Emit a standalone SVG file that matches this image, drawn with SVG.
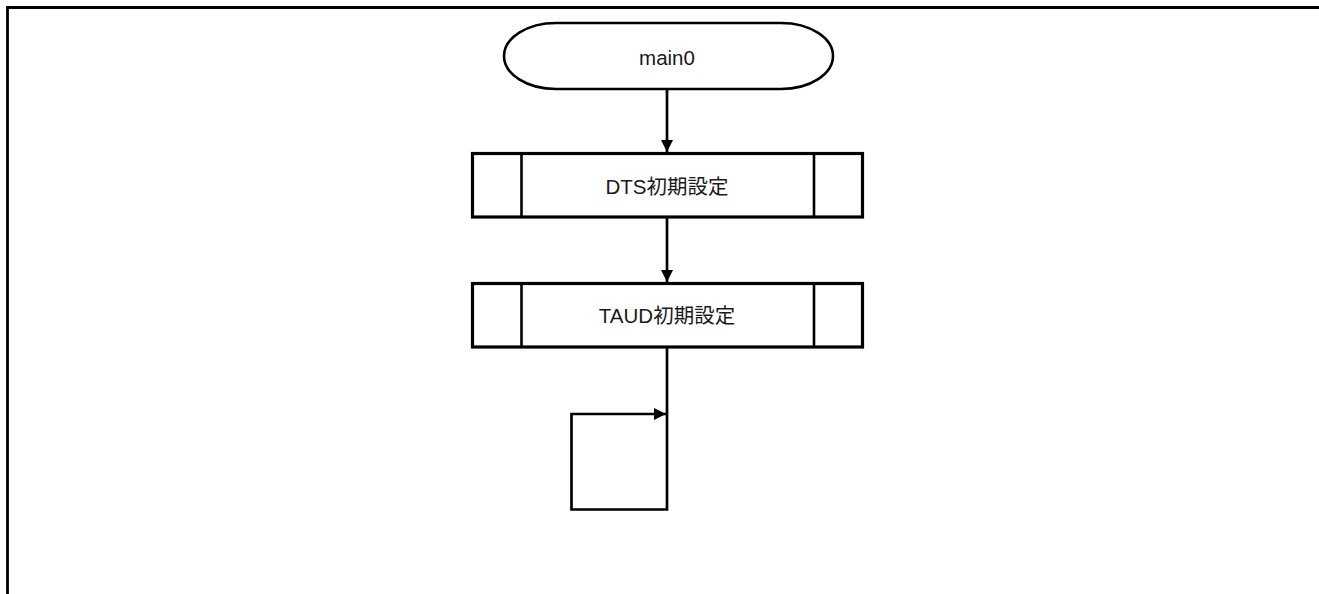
<svg xmlns="http://www.w3.org/2000/svg" width="1319" height="594" viewBox="0 0 1319 594">
<style>
.frame{fill:none;stroke:#000;stroke-width:2.8}
.term{fill:#fff;stroke:#000;stroke-width:2.6}
.box{fill:#fff;stroke:#000;stroke-width:3.2}
.inner{stroke:#000;stroke-width:2.6}
.conn{fill:none;stroke:#000;stroke-width:2.7}
.lbl{font-family:"Liberation Sans","Noto Sans CJK JP",sans-serif;font-size:20.5px;fill:#1a1a1a;text-anchor:middle}
</style>
<defs>
<marker id="arr" viewBox="0 0 12 12" refX="12" refY="6" markerWidth="12" markerHeight="12" markerUnits="userSpaceOnUse" orient="auto">
<path d="M0,0 L12,6 L0,12 Z" fill="#000"/>
</marker>
</defs>
<polyline class="frame" points="7.5,594 7.5,7.5 1319,7.5"/>
<g id="start">
<rect class="term" x="504" y="23" width="329" height="66" rx="52" ry="33"/>
<text class="lbl" x="667" y="64.5">main0</text>
</g>
<g id="dts">
<rect class="box" x="472.5" y="153.5" width="390" height="63.5"/>
<line class="inner" x1="521.5" y1="153.5" x2="521.5" y2="217"/>
<line class="inner" x1="814" y1="153.5" x2="814" y2="217"/>
<text class="lbl" x="667" y="194">DTS初期設定</text>
</g>
<g id="taud">
<rect class="box" x="472.5" y="283.5" width="390" height="63.5"/>
<line class="inner" x1="521.5" y1="283.5" x2="521.5" y2="347"/>
<line class="inner" x1="814" y1="283.5" x2="814" y2="347"/>
<text class="lbl" x="667" y="323">TAUD初期設定</text>
</g>
<g id="connectors">
<line class="conn" x1="667" y1="89" x2="667" y2="152" marker-end="url(#arr)"/>
<line class="conn" x1="667" y1="217" x2="667" y2="282" marker-end="url(#arr)"/>
<polyline class="conn" points="667,347 667,509.5 571.5,509.5 571.5,414 666,414" marker-end="url(#arr)"/>
</g>
</svg>
